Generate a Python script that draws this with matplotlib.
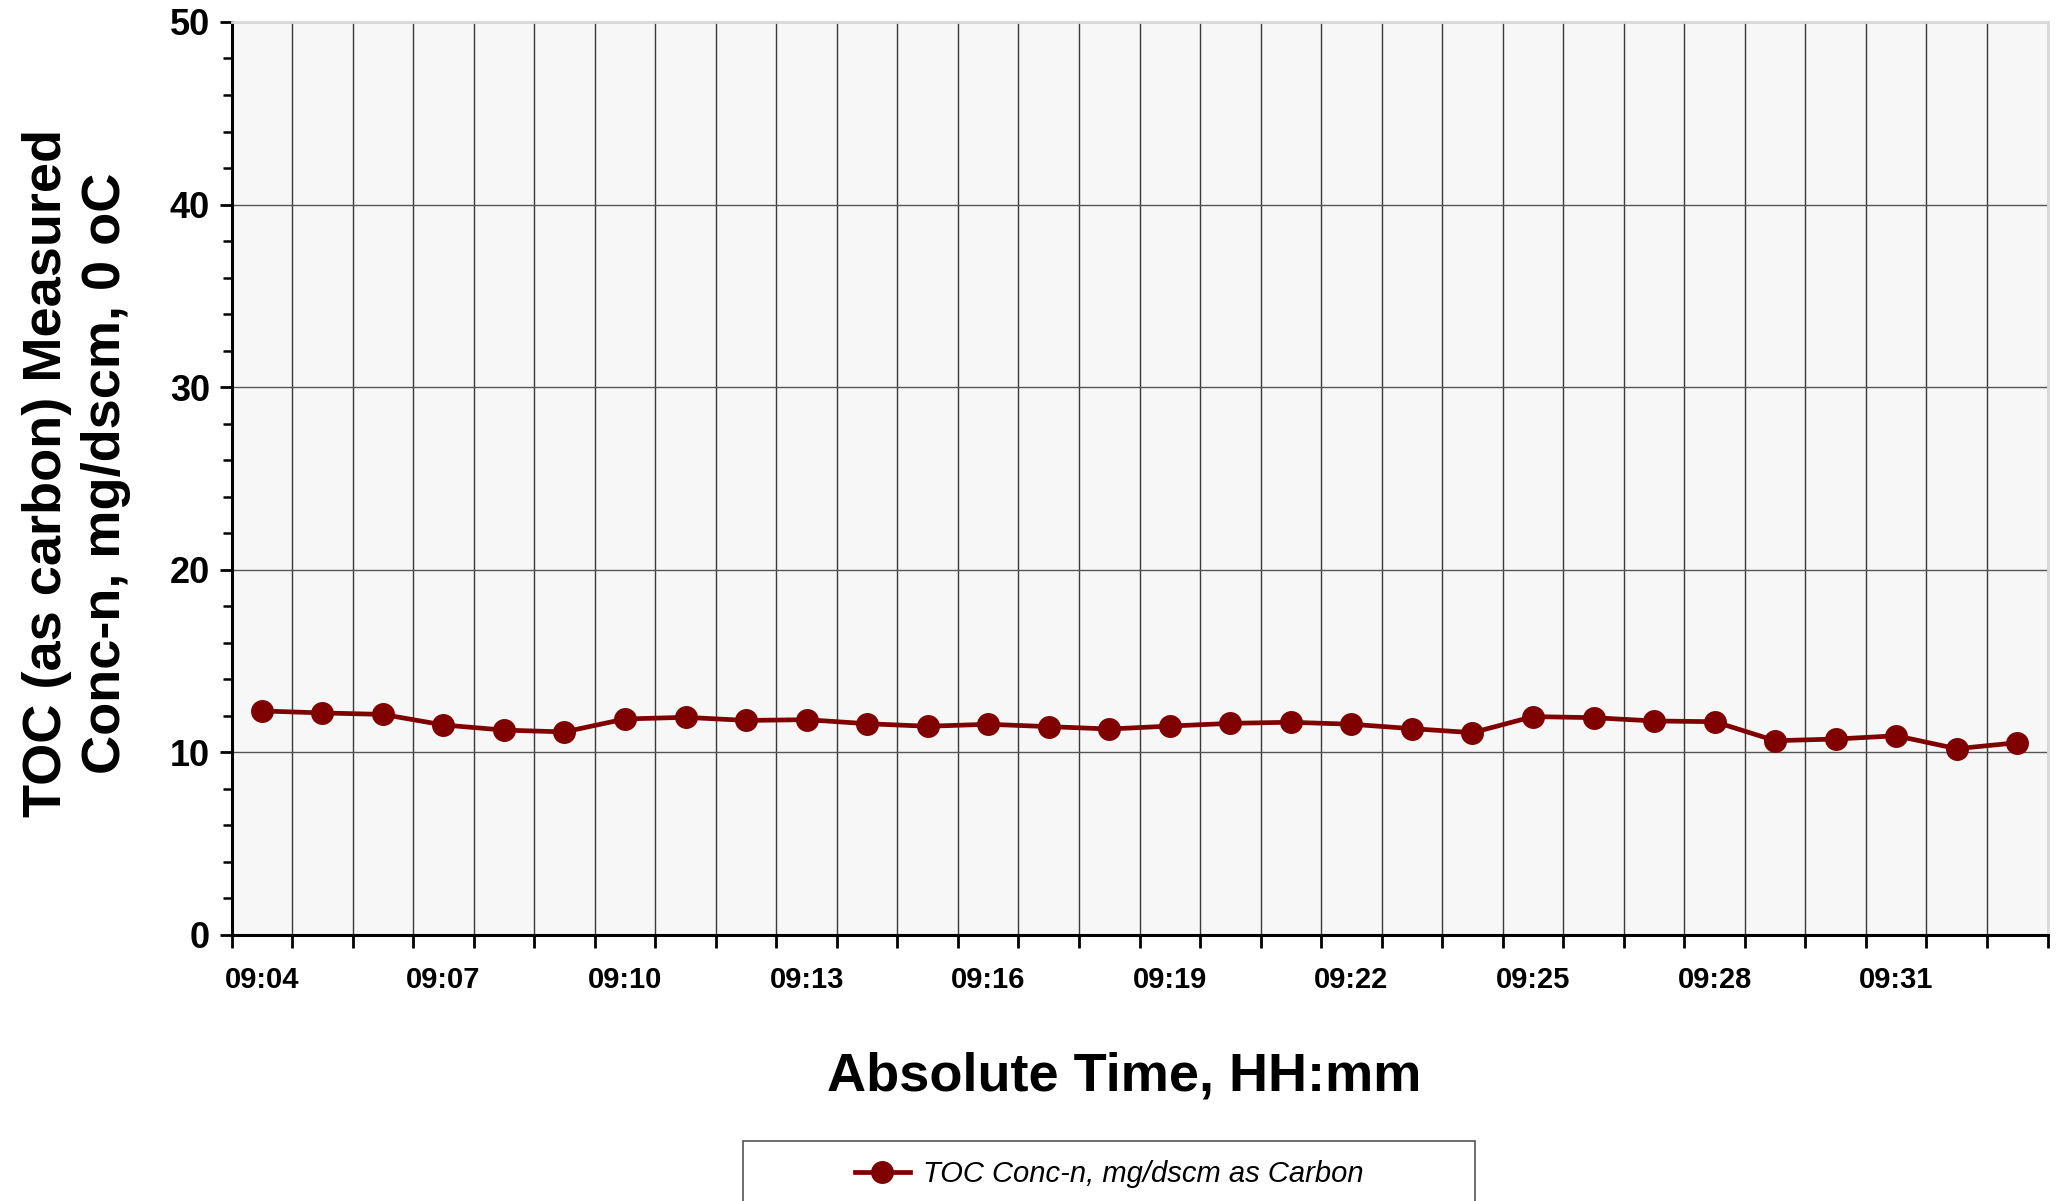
import matplotlib.pyplot as plt
import matplotlib.dates as mdates
import pandas as pd
from matplotlib.patches import Rectangle

plt.rcParams['font.family'] = ['Liberation Sans', 'DejaVu Sans']

# sample times (HH:MM:SS) and measured TOC values
times = ["09:04:30", "09:05:30", "09:06:30", "09:07:30", "09:08:30", "09:09:30",
         "09:10:30", "09:11:30", "09:12:30", "09:13:30", "09:14:30", "09:15:30",
         "09:16:30", "09:17:30", "09:18:30", "09:19:30", "09:20:30", "09:21:30",
         "09:22:30", "09:23:30", "09:24:30", "09:25:30", "09:26:30", "09:27:30",
         "09:28:30", "09:29:30", "09:30:30", "09:31:30", "09:32:30", "09:33:30"]
toc = [12.27, 12.16, 12.08, 11.50, 11.22, 11.12, 11.83, 11.92, 11.75, 11.79,
       11.57, 11.43, 11.54, 11.41, 11.28, 11.44, 11.59, 11.65, 11.54, 11.30,
       11.08, 11.96, 11.90, 11.72, 11.68, 10.64, 10.73, 10.91, 10.20, 10.53]
tick_labels = ["09:04", "09:07", "09:10", "09:13", "09:16", "09:19",
               "09:22", "09:25", "09:28", "09:31"]
x_start, x_end = "09:04", "09:34"
series_name = "TOC Conc-n, mg/dscm as Carbon"

day = "2000-01-01 "
t = pd.to_datetime([day + s for s in times])
# labels sit in the middle of their minute, like the source chart
label_pos = pd.to_datetime([day + s + ":30" for s in tick_labels])

fig = plt.figure(figsize=(20.62, 12.01), dpi=100, facecolor='white')
ax = fig.add_axes([0.1123, 0.2215, 0.8807, 0.7602])
ax.set_facecolor('#f7f7f7')

line, = ax.plot(t, toc, color='#800000', lw=3.4, marker='o', markersize=15.5,
                markeredgecolor='#800000', zorder=3)

ax.set_xlim(pd.Timestamp(day + x_start), pd.Timestamp(day + x_end))
ax.set_ylim(0, 50)

ax.set_xticks(label_pos)
ax.set_xticklabels(tick_labels)
ax.xaxis.set_minor_locator(mdates.MinuteLocator())
ax.set_yticks(range(0, 51, 10))
ax.set_yticks(range(0, 51, 2), minor=True)

ax.grid(True, which='minor', axis='x', color='#3a3a3a', lw=1.0)
ax.grid(True, which='major', axis='y', color='#555555', lw=1.0)
ax.set_axisbelow(True)

for lab in ax.get_xticklabels() + ax.get_yticklabels():
    lab.set_fontweight('bold')
ax.tick_params(axis='x', which='major', length=0, pad=22, labelsize=21)
ax.tick_params(axis='x', which='minor', direction='out', length=9, width=2)
ax.tick_params(axis='y', which='major', direction='out', length=8.5, width=2,
               pad=7, labelsize=26)
ax.tick_params(axis='y', which='minor', direction='out', length=6.5, width=1.8)

ax.spines['left'].set_linewidth(2.2)
ax.spines['bottom'].set_linewidth(2.2)
ax.spines['top'].set_color('#d9d9d9')
ax.spines['right'].set_color('#d9d9d9')
ax.spines['top'].set_linewidth(2)
ax.spines['right'].set_linewidth(2)

fig.text(0.545, 0.104, "Absolute Time, HH:mm", fontsize=39, fontweight='bold',
         ha='center', va='center')
fig.text(0.037, 0.606, "TOC (as carbon) Measured\nConc-n, mg/dscm, 0 oC",
         fontsize=39, fontweight='bold', rotation=90, ha='center', va='center',
         multialignment='center', linespacing=1.22)

# legend box runs off the bottom edge of the figure
fig.patches.append(Rectangle((0.3603, -0.02), 0.355, 0.07, transform=fig.transFigure,
                             facecolor='white', edgecolor='#555555', lw=1.2))
fig.legend([line], [series_name], loc='center', bbox_to_anchor=(0.538, 0.0225),
           frameon=False, handlelength=1.9, handletextpad=0.45,
           prop={'size': 21, 'style': 'italic'})

fig.savefig('out.png', dpi=100)
